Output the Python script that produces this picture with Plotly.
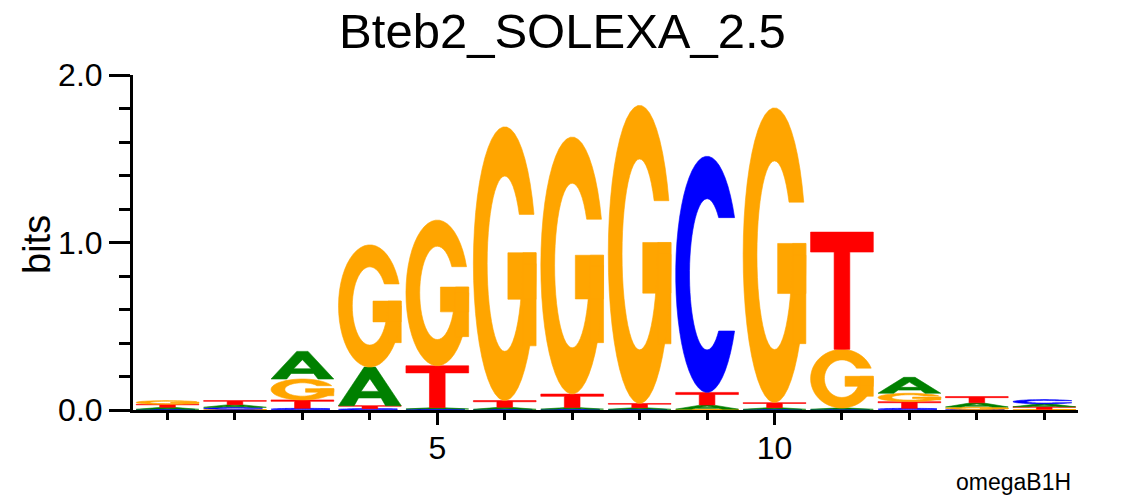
import numpy as np
import plotly.graph_objects as go

# ---------------- data (bits per letter at each motif position) ----------------
positions = list(range(1, 15))
A_bits = [0.012, 0.016, 0.165, 0.230, 0.008, 0.012, 0.010, 0.010, 0.025, 0.010, 0.008, 0.095, 0.025, 0.018]
C_bits = [0.004, 0.012, 0.010, 0.008, 0.006, 0.004, 0.005, 0.004, 1.410, 0.004, 0.004, 0.010, 0.003, 0.025]
G_bits = [0.022, 0.004, 0.125, 0.730, 0.870, 1.635, 1.535, 1.780, 0.005, 1.760, 0.350, 0.050, 0.015, 0.004]
T_bits = [0.018, 0.024, 0.050, 0.018, 0.250, 0.040, 0.080, 0.025, 0.075, 0.030, 0.700, 0.040, 0.037, 0.015]

letters = ["A", "C", "G", "T"]
letter_colors = {"A": "#008000", "C": "#0000FF", "G": "#FFA500", "T": "#FF0000"}
title_text = "Bteb2_SOLEXA_2.5"
y_label = "bits"
note_text = "omegaB1H"

bits = {"A": A_bits, "C": C_bits, "G": G_bits, "T": T_bits}

# ---------------- glyph outlines in a unit box ----------------
def arc(rx, ry, t0, t1, n=48):
    t = np.radians(np.linspace(t0, t1, n))
    return list(zip(0.5 + rx * np.cos(t), 0.5 + ry * np.sin(t)))

RXI, RYI = 0.28, 0.32

def glyph_C():
    yc = 0.74
    to = np.degrees(np.arcsin((yc - 0.5) / 0.5))
    ti = np.degrees(np.arcsin((yc - 0.5) / RYI))
    pts = arc(0.5, 0.5, to, 360 - to) + arc(RXI, RYI, 360 - ti, ti)
    return [pts]

def glyph_G():
    yc = 0.68
    to = np.degrees(np.arcsin((yc - 0.5) / 0.5))
    ti = np.degrees(np.arcsin((yc - 0.5) / RYI))
    ring = arc(0.5, 0.5, to, 360) + arc(RXI, RYI, 360, ti)
    bar = [(0.55, 0.37), (1.0, 0.37), (1.0, 0.54), (0.55, 0.54)]
    stem = [(0.79, 0.20), (1.0, 0.20), (1.0, 0.54), (0.79, 0.54)]
    return [ring, bar, stem]

def glyph_A():
    outer = [(0.0, 0.0), (0.41, 1.0), (0.59, 1.0), (1.0, 0.0), (0.75, 0.0),
             (0.68, 0.20), (0.32, 0.20), (0.25, 0.0)]
    hole = [(0.36, 0.37), (0.64, 0.37), (0.5, 0.70)]
    return [outer, hole]

def glyph_T():
    return [[(0.375, 0.0), (0.625, 0.0), (0.625, 0.83), (1.0, 0.83), (1.0, 1.0),
             (0.0, 1.0), (0.0, 0.83), (0.375, 0.83)]]

glyphs = {"A": glyph_A(), "C": glyph_C(), "G": glyph_G(), "T": glyph_T()}

LETTER_W = 0.93

def letter_path(letter, xc, y0, h):
    parts = []
    for poly in glyphs[letter]:
        seg = []
        for i, (u, v) in enumerate(poly):
            x = xc - LETTER_W / 2 + LETTER_W * u
            y = y0 + h * v
            seg.append(("M" if i == 0 else "L") + f"{x:.4f},{y:.5f}")
        parts.append(" ".join(seg) + " Z")
    return " ".join(parts)

# ---------------- build figure ----------------
fig = go.Figure()
shapes = []
totals = []
for i, pos in enumerate(positions):
    stack = sorted(letters, key=lambda L: bits[L][i])  # smallest at bottom
    y0 = 0.0
    for L in stack:
        h = bits[L][i]
        col = letter_colors[L]
        shapes.append(dict(type="path", xref="x", yref="y",
                           path=letter_path(L, pos, y0, h),
                           fillcolor=col, fillrule="nonzero",
                           line=dict(color=col, width=0.6),
                           layer="above"))
        y0 += h
    totals.append(y0)

fig.add_trace(go.Scatter(x=positions, y=totals, mode="markers",
                         marker=dict(opacity=0), showlegend=False,
                         hoverinfo="x+y"))

FONT = "Liberation Sans, Arial, Helvetica, sans-serif"
L_M, R_M, T_M, B_M = 133, 47, 75, 86
PW, PH = 1125 - L_M - R_M, 496 - T_M - B_M

fig.update_layout(
    width=1125, height=496,
    margin=dict(l=L_M, r=R_M, t=T_M, b=B_M),
    paper_bgcolor="white", plot_bgcolor="white",
    shapes=shapes,
    showlegend=False,
    title=dict(text=title_text, x=0.5, xref="container", xanchor="center",
               y=1 - 31 / 496, yref="container", yanchor="middle",
               font=dict(family=FONT, size=49, color="black")),
    font=dict(family=FONT, color="black"),
    annotations=[
        dict(text=note_text, xref="paper", yref="paper",
             x=(1073 - L_M) / PW, y=(410 - 482) / PH,
             xanchor="right", yanchor="middle", showarrow=False,
             font=dict(family=FONT, size=23, color="black")),
        dict(text=y_label, xref="paper", yref="paper",
             x=(37 - L_M) / PW, y=(410 - 245) / PH, textangle=-90,
             xanchor="center", yanchor="middle", showarrow=False,
             font=dict(family=FONT, size=38, color="black")),
    ],
)

fig.update_xaxes(range=[0.488, 14.50], showgrid=False, zeroline=False,
                 showline=True, linecolor="black", linewidth=3,
                 ticks="outside", tickvals=[5, 10], ticktext=["5", "10"],
                 ticklen=12, tickwidth=3, tickcolor="black",
                 ticklabelstandoff=-4,
                 tickfont=dict(family=FONT, size=32, color="black"),
                 minor=dict(dtick=1, tick0=0, ticks="outside", ticklen=7,
                            tickwidth=3, tickcolor="black", showgrid=False))

fig.update_yaxes(range=[0, 2.0], showgrid=False, zeroline=False,
                 showline=True, linecolor="black", linewidth=3,
                 ticks="outside", dtick=1, tick0=0, tickformat=".1f",
                 ticklen=21, tickwidth=3, tickcolor="black",
                 tickfont=dict(family=FONT, size=32, color="black"),
                 minor=dict(dtick=0.2, tick0=0, ticks="outside", ticklen=11,
                            tickwidth=3, tickcolor="black", showgrid=False))

fig.write_html("out.html", config={"displayModeBar": False},
               post_script="document.body.style.margin='0';document.body.style.padding='0';")
